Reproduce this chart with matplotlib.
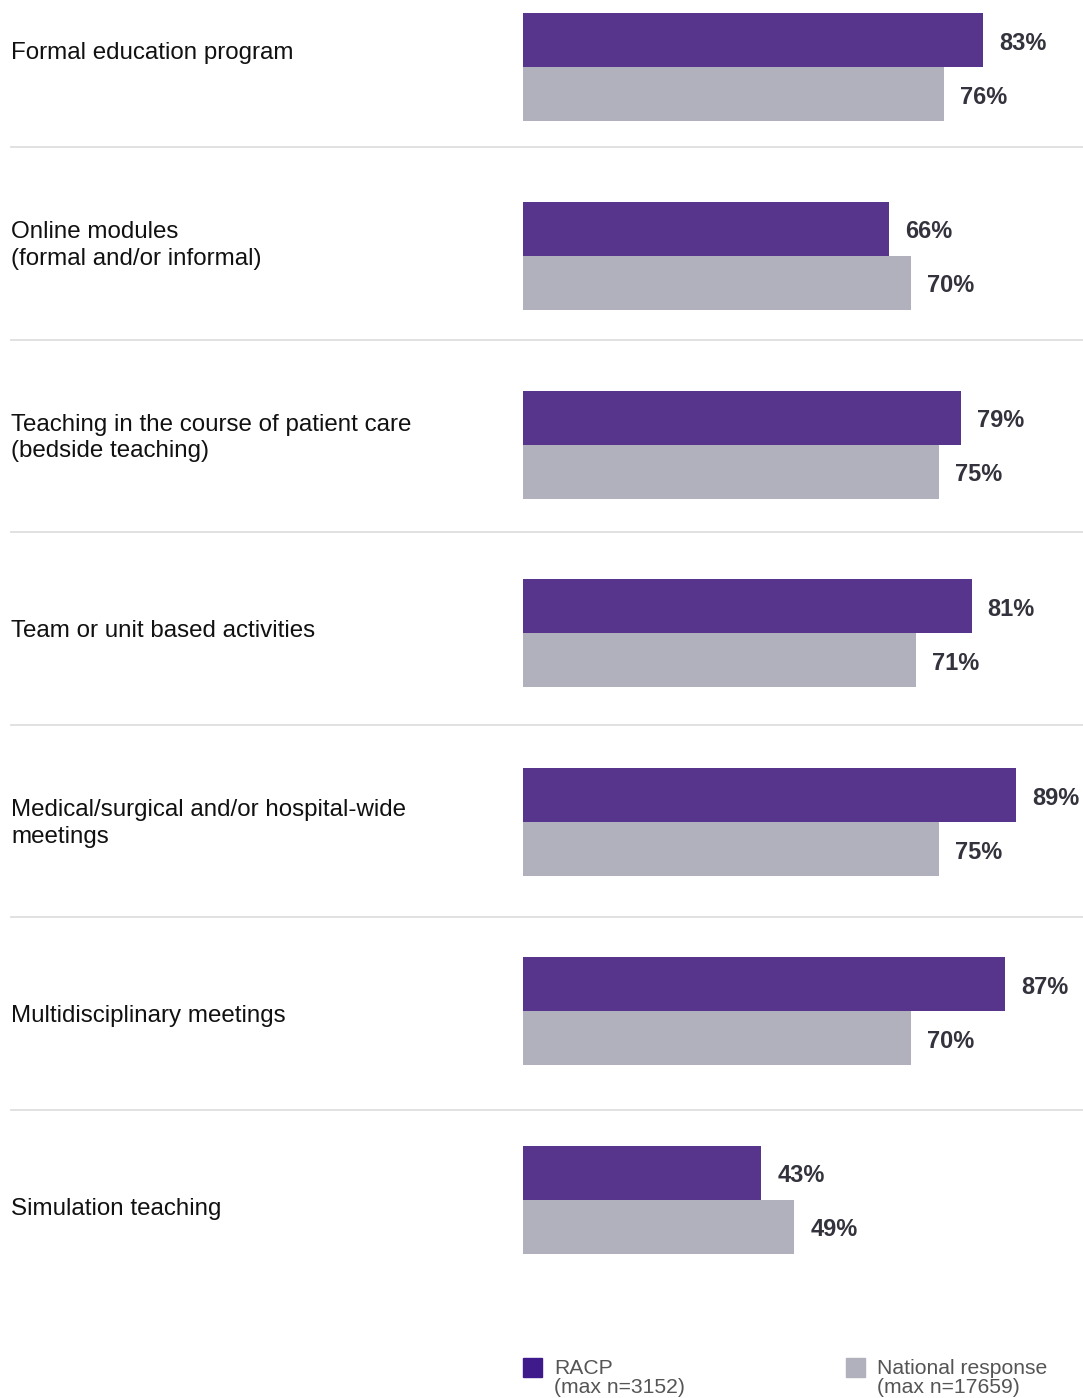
import matplotlib.pyplot as plt
from matplotlib.patches import Rectangle
from matplotlib.lines import Line2D

plt.rcParams['font.family'] = ['Liberation Sans', 'DejaVu Sans']

# chart data
categories = [
    "Formal education program",
    "Online modules\n(formal and/or informal)",
    "Teaching in the course of patient care\n(bedside teaching)",
    "Team or unit based activities",
    "Medical/surgical and/or hospital-wide\nmeetings",
    "Multidisciplinary meetings",
    "Simulation teaching",
]
racp = [83, 66, 79, 81, 89, 87, 43]
national = [76, 70, 75, 71, 75, 70, 49]
legend_labels = ["RACP\n(max n=3152)", "National response\n(max n=17659)"]

PURPLE = "#58358c"
GREY = "#b1b1bd"
W, H = 1083, 1398

fig = plt.figure(figsize=(W / 100, H / 100), dpi=100)

# axes in pixel layout: bars start at x=523, 100% at x=1077
pitch = 188.8
top = 67
ax = fig.add_axes([523 / W, 0, 554 / W, 1])
ax.set_xlim(0, 100)
ax.set_ylim((H - top) / pitch, -top / pitch)
ax.axis("off")

bh = 54 / pitch
ys = list(range(len(categories)))
ax.barh([y - bh / 2 for y in ys], racp, height=bh, color=PURPLE)
ax.barh([y + bh / 2 for y in ys], national, height=bh, color=GREY)

for y, a, b in zip(ys, racp, national):
    ax.annotate(f"{a}%", (a, y - bh / 2), xytext=(16, -3), textcoords="offset pixels",
                va="center", ha="left", fontsize=17, fontweight="bold", color="#33333d")
    ax.annotate(f"{b}%", (b, y + bh / 2), xytext=(16, -3), textcoords="offset pixels",
                va="center", ha="left", fontsize=17, fontweight="bold", color="#33333d")

# category labels and separators on the left/page grid
lab_pitch = 192.6
for i, c in enumerate(categories):
    fig.text(11 / W, 1 - (53 + lab_pitch * i) / H, c, ha="left", va="center",
             fontsize=17.4, color="#111111", linespacing=1.25)
for k in range(len(categories) - 1):
    yy = 1 - (147 + lab_pitch * k) / H
    fig.add_artist(Line2D([11 / W, 1], [yy, yy], color="#dcdcdc", lw=1.2))

# legend
for x0, col, lab in [(523, "#3f1a8a", legend_labels[0]), (846, GREY, legend_labels[1])]:
    fig.add_artist(Rectangle((x0 / W, 1 - 1377 / H), 19 / W, 19 / H, color=col,
                             transform=fig.transFigure))
    fig.text((x0 + 31) / W, 1 - 1378 / H, lab, ha="left", va="center",
             fontsize=15.2, color="#555555", linespacing=0.95)

fig.savefig("out.png", dpi=100)
